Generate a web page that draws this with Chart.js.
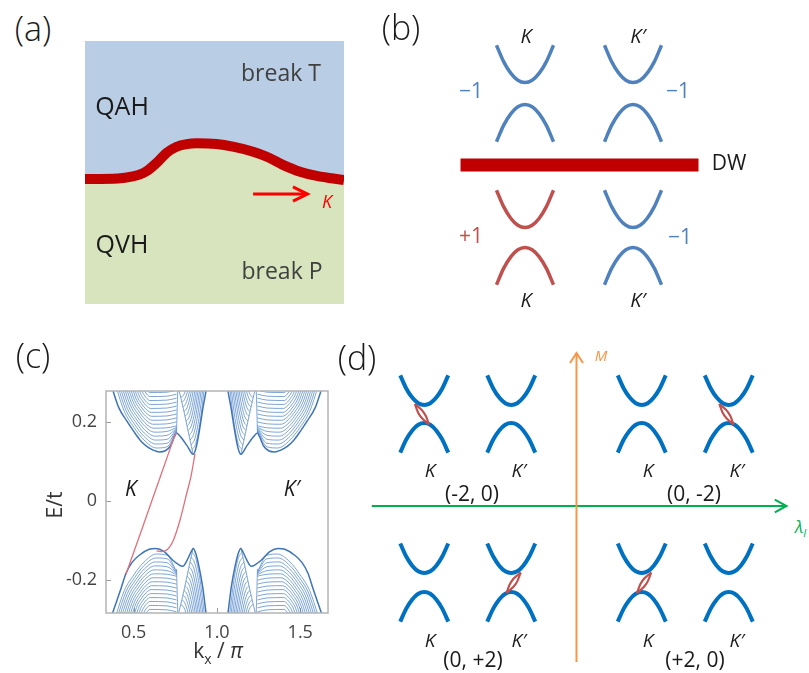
<!DOCTYPE html>
<html>
<head>
<meta charset="utf-8">
<script src="https://cdn.jsdelivr.net/npm/chart.js@4.4.1/dist/chart.umd.min.js"></script>
<style>
  html, body { margin: 0; padding: 0; background: #fff; }
  #fig { position: relative; width: 809px; height: 673px; overflow: hidden; font-family: "Open Sans", "Noto Sans", sans-serif; }
  #fig canvas { position: absolute; }
  .lbl { position: absolute; transform: translate(-50%, -50%); white-space: nowrap; line-height: 1; color: #1a1a1a; z-index: 5; }
  .pan { font-size: 34px; font-weight: 300; }
  .it { font-style: italic; }
</style>
</head>
<body>
<div id="fig">
  <!-- (a) -->
  <div class="lbl pan" style="left:33px;top:28px">(a)</div>
  <div class="lbl" style="left:122px;top:105px;font-size:25px">QAH</div>
  <div class="lbl" style="left:281px;top:72px;font-size:23px;color:#404040">break T</div>
  <div class="lbl" style="left:122px;top:243px;font-size:25px">QVH</div>
  <div class="lbl" style="left:282px;top:270px;font-size:23px;color:#404040">break P</div>
  <div class="lbl it" style="left:327px;top:201px;font-size:18px;color:#ff0000">K</div>
  <!-- (b) -->
  <div class="lbl pan" style="left:401px;top:27px">(b)</div>
  <div class="lbl it" style="left:526px;top:36px;font-size:20px">K</div>
  <div class="lbl it" style="left:638px;top:36px;font-size:20px">K′</div>
  <div class="lbl it" style="left:526px;top:300px;font-size:20px">K</div>
  <div class="lbl it" style="left:638px;top:300px;font-size:20px">K′</div>
  <div class="lbl" style="left:471px;top:90px;font-size:21px;color:#4f81bd">−1</div>
  <div class="lbl" style="left:678px;top:90px;font-size:21px;color:#4f81bd">−1</div>
  <div class="lbl" style="left:471px;top:235px;font-size:21px;color:#c0504d">+1</div>
  <div class="lbl" style="left:680px;top:236px;font-size:21px;color:#4f81bd">−1</div>
  <div class="lbl" style="left:729px;top:162px;font-size:21px">DW</div>
  <!-- (c) -->
  <div class="lbl pan" style="left:33px;top:355px">(c)</div>
  <div class="lbl it" style="left:131px;top:488px;font-size:21px">K</div>
  <div class="lbl it" style="left:292px;top:488px;font-size:21px">K′</div>
  <div class="lbl" style="left:54px;top:505px;font-size:21px;color:#333;transform:translate(-50%,-50%) rotate(-90deg)">E/t</div>
  <div class="lbl" style="left:218px;top:653px;font-size:21px;color:#333">k<sub style="font-size:14px">x</sub> / <i>π</i></div>
  <!-- (d) -->
  <div class="lbl pan" style="left:357px;top:357px">(d)</div>
  <div class="lbl it" style="left:601px;top:355px;font-size:15px;color:#f79646">M</div>
  <div class="lbl it" style="font-size:17px;color:#00b050;transform:none;top:518px;left:795px">λ<sub style="font-size:11px">I</sub></div>
  <div class="lbl it" style="left:430px;top:470px;font-size:19px">K</div>
  <div class="lbl it" style="left:519px;top:470px;font-size:19px">K′</div>
  <div class="lbl it" style="left:648px;top:470px;font-size:19px">K</div>
  <div class="lbl it" style="left:737px;top:470px;font-size:19px">K′</div>
  <div class="lbl it" style="left:430px;top:640px;font-size:19px">K</div>
  <div class="lbl it" style="left:519px;top:640px;font-size:19px">K′</div>
  <div class="lbl it" style="left:648px;top:640px;font-size:19px">K</div>
  <div class="lbl it" style="left:737px;top:640px;font-size:19px">K′</div>
  <div class="lbl" style="left:472px;top:493px;font-size:21px">(-2, 0)</div>
  <div class="lbl" style="left:694px;top:493px;font-size:21px">(0, -2)</div>
  <div class="lbl" style="left:473px;top:659px;font-size:21px">(0, +2)</div>
  <div class="lbl" style="left:695px;top:659px;font-size:21px">(+2, 0)</div>
</div>
<script>
// ---------- data ----------
// (a) domain wall profile (fractions of the box)
var wallX = [0, 0.127, 0.185, 0.21, 0.238, 0.277, 0.315, 0.354, 0.393, 0.431, 0.508, 0.571, 0.649, 0.702, 0.764, 0.83, 0.895, 1];
var wallY = [0.475, 0.477, 0.485, 0.492, 0.505, 0.537, 0.575, 0.598, 0.608, 0.611, 0.608, 0.598, 0.579, 0.56, 0.529, 0.503, 0.487, 0.471];
var arrowX = [0.649, 0.855];
var arrowY = 0.418;

// schematic band shape (half width = 1, height = 1)
var parabolaDk = [-1, -0.75, -0.5, -0.25, 0, 0.25, 0.5, 0.75, 1];
var parabolaDe = [1, 0.56, 0.25, 0.06, 0, 0.06, 0.25, 0.56, 1];

// (b) valleys K, K' and the two gaps (above / below the wall)
var bValleyK = [-1, 1];
var bGapE = [1.324, -1.343];
var bHalfGap = [0.204, 0.185];
var dwK = [-2.194, 2.213];

// (d) valley positions, gap centres, edge-state lenses [k, E, orientation]
var dValleyX = [-3.5, -1.5, 1.5, 3.5];
var dGapE = [2.115, -1.76];
var dHalfGap = [0.207, 0.218];
var dLensSites = [[-3.5, 2.115, 1], [3.5, 2.115, 1], [-1.5, -1.76, -1], [1.5, -1.76, -1]];
var lensArcA = [[-0.216, 0.23], [-0.006, 0.028], [0.11, -0.24]];
var lensArcB = [[-0.216, 0.23], [-0.1, -0.038], [0.11, -0.24]];
var lambdaAxis = [[-4.706, 0], [4.828, 0]];
var mAxis = [[0, -3.586], [0, 3.517]];

// (c) ribbon bands near K (k in units of pi, E/t)
var xTicks = [0.5, 1.0, 1.5];
var xTickLabels = ['0.5', '1.0', '1.5'];
var yTicks = [-0.2, 0, 0.2];
var yTickLabels = ['-0.2', '0', '0.2'];

var upperEnvelope = [[0.36, 0.30], [0.375, 0.279], [0.41, 0.236], [0.457, 0.203], [0.50, 0.176], [0.54, 0.153], [0.578, 0.138], [0.62, 0.128], [0.653, 0.124], [0.69, 0.127], [0.72, 0.139], [0.745, 0.163], [0.757, 0.172], [0.78, 0.163], [0.82, 0.14], [0.857, 0.118], [0.875, 0.136], [0.895, 0.18], [0.915, 0.234], [0.934, 0.279], [0.94, 0.30]];
var lowerEnvelope = [[0.36, -0.30], [0.373, -0.283], [0.40, -0.25], [0.423, -0.222], [0.453, -0.183], [0.49, -0.155], [0.533, -0.137], [0.593, -0.122], [0.633, -0.12], [0.683, -0.128], [0.733, -0.149], [0.77, -0.161], [0.794, -0.165], [0.82, -0.15], [0.845, -0.128], [0.857, -0.12], [0.872, -0.132], [0.89, -0.162], [0.914, -0.217], [0.934, -0.283], [0.94, -0.30]];
var upperRidge = [[0.757, 0.172], [0.76, 0.22], [0.765, 0.29]];
// nested bowl-shaped subbands between the left wall and the ridge
var upperBowls = [
  [[0.392, 0.29], [0.4437, 0.226], [0.5001, 0.187], [0.5612, 0.1543], [0.6364, 0.134], [0.70, 0.137], [0.757, 0.178]],
  [[0.404, 0.29], [0.4524, 0.2301], [0.5052, 0.1936], [0.5624, 0.163], [0.6328, 0.144], [0.70, 0.146], [0.757, 0.18]],
  [[0.416, 0.29], [0.4611, 0.2342], [0.5103, 0.2002], [0.5636, 0.1717], [0.6292, 0.154], [0.70, 0.156], [0.757, 0.182]],
  [[0.428, 0.29], [0.4698, 0.2383], [0.5154, 0.2068], [0.5648, 0.1804], [0.6256, 0.164], [0.70, 0.166], [0.757, 0.184]],
  [[0.44, 0.29], [0.4785, 0.2424], [0.5205, 0.2134], [0.566, 0.1891], [0.622, 0.174], [0.70, 0.176], [0.757, 0.186]],
  [[0.452, 0.29], [0.4872, 0.2465], [0.5256, 0.22], [0.5672, 0.1978], [0.6184, 0.184], [0.70, 0.185], [0.757, 0.19]],
  [[0.464, 0.29], [0.4959, 0.2506], [0.5307, 0.2266], [0.5684, 0.2065], [0.6148, 0.194], [0.70, 0.195], [0.757, 0.20]],
  [[0.476, 0.29], [0.5046, 0.2547], [0.5358, 0.2332], [0.5696, 0.2152], [0.6112, 0.204], [0.70, 0.205], [0.757, 0.21]],
  [[0.488, 0.29], [0.5133, 0.2588], [0.5409, 0.2398], [0.5708, 0.2239], [0.6076, 0.214], [0.70, 0.215], [0.757, 0.22]],
  [[0.50, 0.29], [0.522, 0.2629], [0.546, 0.2464], [0.572, 0.2326], [0.604, 0.224], [0.70, 0.225], [0.757, 0.23]],
  [[0.513, 0.29], [0.5317, 0.267], [0.5521, 0.253], [0.5742, 0.2413], [0.6014, 0.234], [0.70, 0.235], [0.757, 0.24]],
  [[0.526, 0.29], [0.5414, 0.2711], [0.5582, 0.2596], [0.5764, 0.25], [0.5988, 0.244], [0.70, 0.245], [0.757, 0.25]],
  [[0.54, 0.29], [0.5521, 0.2752], [0.5653, 0.2662], [0.5796, 0.2587], [0.5972, 0.254], [0.70, 0.255], [0.757, 0.26]],
  [[0.555, 0.29], [0.5638, 0.2793], [0.5734, 0.2728], [0.5838, 0.2674], [0.5966, 0.264], [0.70, 0.265], [0.757, 0.27]],
  [[0.57, 0.29], [0.5755, 0.2834], [0.5815, 0.2794], [0.588, 0.2761], [0.596, 0.274], [0.70, 0.275], [0.757, 0.28]]
];
var upperVArm = [[0.766, 0.29], [0.797, 0.235], [0.82, 0.19], [0.841, 0.148], [0.857, 0.118]];
var upperVFan = [
  [[0.851, 0.13], [0.8732, 0.146], [0.8991, 0.202], [0.925, 0.29]],
  [[0.845, 0.142], [0.8666, 0.1568], [0.8918, 0.2086], [0.917, 0.29]],
  [[0.838, 0.154], [0.859, 0.1676], [0.8835, 0.2152], [0.908, 0.29]],
  [[0.832, 0.166], [0.8521, 0.1784], [0.8756, 0.2218], [0.899, 0.29]],
  [[0.826, 0.178], [0.8452, 0.1892], [0.8676, 0.2284], [0.89, 0.29]],
  [[0.82, 0.19], [0.8383, 0.2], [0.8597, 0.235], [0.881, 0.29]],
  [[0.814, 0.202], [0.8314, 0.2108], [0.8517, 0.2416], [0.872, 0.29]],
  [[0.807, 0.214], [0.8235, 0.2216], [0.8428, 0.2482], [0.862, 0.29]],
  [[0.801, 0.226], [0.8163, 0.2324], [0.8342, 0.2548], [0.852, 0.29]],
  [[0.795, 0.238], [0.8091, 0.2432], [0.8256, 0.2614], [0.842, 0.29]],
  [[0.789, 0.25], [0.8016, 0.254], [0.8163, 0.268], [0.831, 0.29]],
  [[0.783, 0.262], [0.7941, 0.2648], [0.8071, 0.2746], [0.82, 0.29]]
];
var edgeLeft = [[0.453, -0.185], [0.55, -0.07], [0.65, 0.05], [0.715, 0.128], [0.742, 0.16], [0.757, 0.172]];
var edgeRight = [[0.637, -0.126], [0.665, -0.128], [0.698, -0.124], [0.738, -0.099], [0.778, -0.048], [0.818, 0.019], [0.845, 0.065], [0.868, 0.12]];

// ---------- helpers ----------
var FONT = '"Open Sans", "Noto Sans", sans-serif';
Chart.defaults.font.family = FONT;
Chart.defaults.animation = false;
Chart.defaults.responsive = false;
Chart.defaults.events = [];
Chart.defaults.plugins.legend.display = false;
Chart.defaults.plugins.tooltip.enabled = false;
Chart.defaults.elements.point.radius = 0;
Chart.defaults.elements.line.capBezierPoints = false;

var BLUE_B = '#4f81bd', RED_B = '#c0504d', BLUE_D = '#0070c0', BAND = '#5287c8';

function makeCanvas(left, top, w, h) {
  var c = document.createElement('canvas');
  c.width = w; c.height = h;
  c.style.left = left + 'px'; c.style.top = top + 'px';
  c.style.width = w + 'px'; c.style.height = h + 'px';
  document.getElementById('fig').appendChild(c);
  return c.getContext('2d');
}
function toXY(arr) { return arr.map(function (p) { return { x: p[0], y: p[1] }; }); }
function line(points, color, width, extra) {
  var d = { data: toXY(points), borderColor: color, borderWidth: width, fill: false, pointRadius: 0,
            cubicInterpolationMode: 'monotone', borderCapStyle: 'butt' };
  for (var k in extra) d[k] = extra[k];
  return d;
}
// later datasets are painted on top
function stack(datasets) { datasets.forEach(function (d, i) { d.order = -i; }); return datasets; }
function hidden(min, max) { return { type: 'linear', display: false, min: min, max: max }; }
function schematic(datasets, xr, yr) {
  return { type: 'line', data: { datasets: stack(datasets) },
    options: { layout: { padding: 0, autoPadding: false }, scales: { x: hidden(xr[0], xr[1]), y: hidden(yr[0], yr[1]) } } };
}
function parabola(cx, base, hw, h, dir) {
  return parabolaDk.map(function (d, i) { return [cx + d * hw, base + dir * parabolaDe[i] * h]; });
}

// ---------- (a) ----------
var wall = wallX.map(function (x, i) { return [x, wallY[i]]; });
new Chart(makeCanvas(85, 41, 259, 263), schematic([
  line(wall, 'rgba(0,0,0,0)', 0, { fill: 'end', backgroundColor: '#b9cde5' }),
  line(wall, 'rgba(0,0,0,0)', 0, { fill: 'start', backgroundColor: '#d7e4bd' }),
  line(wall, '#c00000', 10),
  line([[arrowX[0], arrowY], [arrowX[1], arrowY]], '#ff0000', 3),
  line([[arrowX[1] - 0.052, arrowY + 0.027], [arrowX[1] + 0.004, arrowY], [arrowX[1] - 0.052, arrowY - 0.027]], '#ff0000', 3,
       { cubicInterpolationMode: 'default', tension: 0, borderJoinStyle: 'miter' })
], [0, 1], [0, 1]));

// ---------- (b) ----------
var bSets = [line([[dwK[0], 0], [dwK[1], 0]], '#c00000', 13)];
var bColors = [[BLUE_B, BLUE_B], [RED_B, BLUE_B]];
bGapE.forEach(function (g, r) {
  bValleyK.forEach(function (k, v) {
    bSets.push(line(parabola(k, g + bHalfGap[r], 0.528, 0.69, 1), bColors[r][v], 3.5));
    bSets.push(line(parabola(k, g - bHalfGap[r], 0.528, 0.69, -1), bColors[r][v], 3.5));
  });
});
new Chart(makeCanvas(417, 3, 324, 324), schematic(bSets, [-3, 3], [-3, 3]));

// ---------- (c) ----------
function flipE(arr) { return arr.map(function (p) { return [p[0], -p[1]]; }); }
function mirrorK(arr) { return arr.map(function (p) { return [2 - p[0], p[1]]; }).reverse(); }

var thinK = [upperRidge, upperVArm].concat(upperBowls, upperVFan);
var thinLines = thinK.concat(thinK.map(flipE));
var envLines = [upperEnvelope, lowerEnvelope];

var cSets = [];
thinLines.forEach(function (l) {
  cSets.push(line(l, BAND, 0.75));
  cSets.push(line(mirrorK(l), BAND, 0.75));
});
envLines.forEach(function (l) {
  cSets.push(line(l, '#3f74b8', 1.5));
  cSets.push(line(mirrorK(l), '#3f74b8', 1.5));
});
cSets.push(line(edgeLeft, '#e0707a', 1.3));
cSets.push(line(edgeRight, '#e0707a', 1.3));

var frame = {
  id: 'frame',
  beforeDatasetsDraw: function (chart) {
    var ctx = chart.ctx, a = chart.chartArea, x = chart.scales.x, y = chart.scales.y;
    ctx.save();
    ctx.strokeStyle = '#999'; ctx.lineWidth = 1;
    ctx.beginPath();
    x.ticks.forEach(function (t) { var px = Math.round(x.getPixelForValue(t.value)) + 0.5; ctx.moveTo(px, a.bottom); ctx.lineTo(px, a.bottom - 5); });
    y.ticks.forEach(function (t) { var py = Math.round(y.getPixelForValue(t.value)) + 0.5; ctx.moveTo(a.left, py); ctx.lineTo(a.left + 5, py); });
    ctx.stroke();
    ctx.restore();
  },
  afterDatasetsDraw: function (chart) {
    var ctx = chart.ctx, a = chart.chartArea;
    ctx.save();
    ctx.strokeStyle = '#b4b4b4'; ctx.lineWidth = 1.5;
    ctx.strokeRect(a.left, a.top, a.right - a.left, a.bottom - a.top);
    ctx.restore();
  }
};
var tickFont = { size: 18, family: FONT };
new Chart(makeCanvas(0, 370, 345, 300), {
  type: 'line',
  data: { datasets: stack(cSets) },
  options: {
    layout: { padding: { top: 21, right: 17, left: 0, bottom: 0 }, autoPadding: false },
    scales: {
      x: { type: 'linear', min: 1 / 3, max: 5 / 3,
        afterBuildTicks: function (s) { s.ticks = xTicks.map(function (v) { return { value: v }; }); },
        afterFit: function (s) { s.height = 57; },
        ticks: { callback: function (v, i) { return xTickLabels[i]; }, font: tickFont, color: '#444', padding: 9, maxRotation: 0, autoSkip: false },
        grid: { display: false, drawTicks: false }, border: { display: false } },
      y: { type: 'linear', min: -0.283, max: 0.278,
        afterBuildTicks: function (s) { s.ticks = yTicks.map(function (v) { return { value: v }; }); },
        afterFit: function (s) { s.width = 106; },
        ticks: { callback: function (v, i) { return yTickLabels[i]; }, font: tickFont, color: '#444', padding: 9, autoSkip: false },
        grid: { display: false, drawTicks: false }, border: { display: false } }
    }
  },
  plugins: [frame]
});

// ---------- (d) ----------
var dSets = [
  line(lambdaAxis, '#00b050', 2),
  line([[lambdaAxis[1][0] - 0.27, 0.145], lambdaAxis[1], [lambdaAxis[1][0] - 0.27, -0.145]], '#00b050', 2, { cubicInterpolationMode: 'default', tension: 0 }),
  line(mAxis, '#f79646', 2),
  line([[-0.15, mAxis[1][1] - 0.23], mAxis[1], [0.15, mAxis[1][1] - 0.23]], '#f79646', 2, { cubicInterpolationMode: 'default', tension: 0 })
];
dGapE.forEach(function (g, r) {
  dValleyX.forEach(function (k) {
    dSets.push(line(parabola(k, g + dHalfGap[r], 0.552, 0.68, 1), BLUE_D, 4));
    dSets.push(line(parabola(k, g - dHalfGap[r], 0.552, 0.68, -1), BLUE_D, 4));
  });
});
dLensSites.forEach(function (s) {
  [lensArcA, lensArcB].forEach(function (arc) {
    var pts = arc.map(function (p) { return [s[0] + s[2] * p[0], s[1] + p[1]]; });
    dSets.push(line(pts, RED_B, 2.2, { cubicInterpolationMode: 'default', tension: 0.5 }));
  });
});
new Chart(makeCanvas(359, 332, 435, 348), schematic(dSets, [-5, 5], [-4, 4]));
</script>
</body>
</html>
